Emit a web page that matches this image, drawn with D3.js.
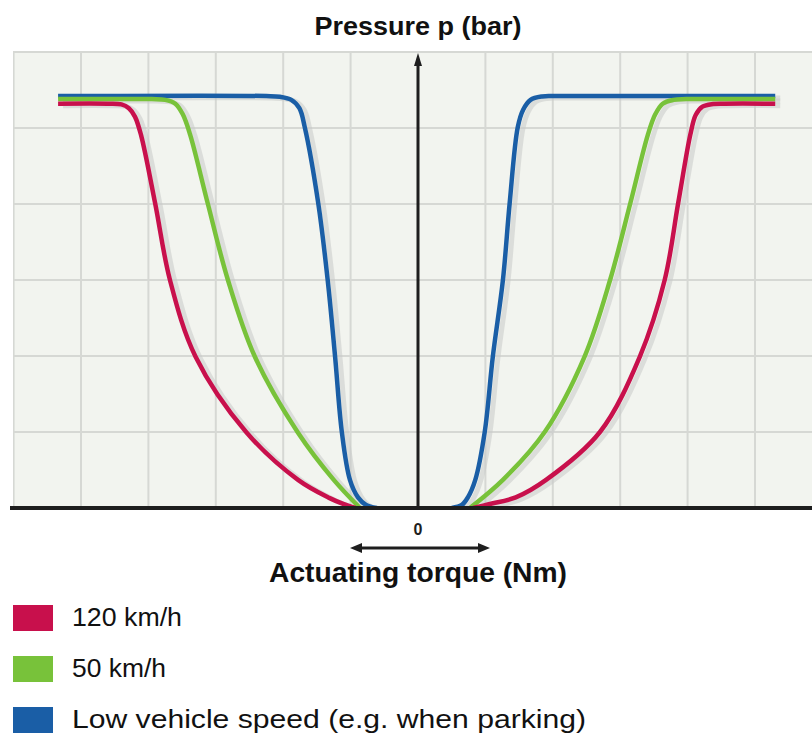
<!DOCTYPE html>
<html>
<head>
<meta charset="utf-8">
<script src="https://cdn.jsdelivr.net/npm/d3@7"></script>
<style>
  body { margin: 0; background: #fff; }
  svg { display: block; font-family: "Liberation Sans", Arial, sans-serif; }
</style>
</head>
<body>
<div id="chart"></div>
<script>
// curves: [torque (grid units), pressure (grid units)]
const red120Left = [[-5.34, 5.32], [-4.6, 5.32], [-4.4, 5.31], [-4.29, 5.26], [-4.2, 5.15], [-4.11, 4.91], [-3.9, 4.01], [-3.68, 3.0], [-3.3, 1.99], [-2.55, 1.0], [-1.78, 0.37], [-1.31, 0.13], [-1.1, 0.05], [-0.93, 0]];
const red120Right = [[0.82, 0], [1.05, 0.05], [1.45, 0.14], [1.9, 0.37], [2.7, 1.0], [3.29, 1.99], [3.66, 3.0], [3.86, 4.01], [4.04, 4.91], [4.12, 5.17], [4.22, 5.28], [4.38, 5.315], [4.55, 5.32], [5.3, 5.32]];
const green50Left = [[-5.34, 5.38], [-3.95, 5.38], [-3.75, 5.37], [-3.6, 5.32], [-3.49, 5.18], [-3.38, 4.91], [-3.12, 4.01], [-2.82, 3.0], [-2.42, 1.99], [-1.78, 0.99], [-1.25, 0.37], [-0.86, 0]];
const green50Right = [[0.77, 0], [1.26, 0.37], [1.88, 1.0], [2.47, 1.99], [2.85, 3.0], [3.15, 4.01], [3.41, 4.91], [3.52, 5.18], [3.63, 5.32], [3.79, 5.37], [3.98, 5.38], [5.3, 5.38]];
const lowSpeedLeft = [[-5.34, 5.42], [-2.25, 5.42], [-2.05, 5.41], [-1.88, 5.37], [-1.76, 5.26], [-1.68, 5.01], [-1.48, 4.01], [-1.34, 3.0], [-1.23, 1.99], [-1.13, 1.0], [-1.01, 0.37], [-0.89, 0.14], [-0.77, 0.04], [-0.61, 0]];
const lowSpeedRight = [[0.5, 0], [0.65, 0.04], [0.74, 0.14], [0.85, 0.37], [0.99, 1.0], [1.11, 1.99], [1.26, 3.0], [1.36, 4.01], [1.48, 5.01], [1.56, 5.24], [1.67, 5.37], [1.84, 5.415], [2.05, 5.42], [5.3, 5.42]];

const seriesNames = ["120 km/h", "50 km/h", "Low vehicle speed (e.g. when parking)"];
const seriesColors = ["#c8104c", "#78c23a", "#1a5ea6"];
const xTicks = [-6, -5, -4, -3, -2, -1, 0, 1, 2, 3, 4, 5, 6];
const yTicks = [0, 1, 2, 3, 4, 5, 6];

const width = 812;
const height = 733;
const plot = { left: 13, right: 812, top: 52, bottom: 508 };

const svg = d3.select("#chart")
  .append("svg")
  .attr("width", width)
  .attr("height", height);

const x = d3.scaleLinear()
  .domain([-6, 6])
  .range([plot.left + 0.6, 822.4]);

const y = d3.scaleLinear()
  .domain([0, 6])
  .range([plot.bottom, plot.top]);

svg.append("clipPath").attr("id", "clip")
  .append("rect")
  .attr("x", plot.left).attr("y", plot.top - 2)
  .attr("width", plot.right - plot.left).attr("height", plot.bottom - plot.top + 2);

// plot background
svg.append("rect")
  .attr("x", plot.left)
  .attr("y", plot.top)
  .attr("width", plot.right - plot.left)
  .attr("height", plot.bottom - plot.top)
  .attr("fill", "#f2f4ef");

const grid = svg.append("g").attr("clip-path", "url(#clip)");

grid.selectAll("line.v")
  .data(xTicks.filter(d => d !== 0))
  .join("line")
    .attr("class", "v")
    .attr("x1", d => x(d)).attr("x2", d => x(d))
    .attr("y1", plot.top).attr("y2", plot.bottom)
    .attr("stroke", "#d6d8d4")
    .attr("stroke-width", 2);

grid.selectAll("line.h")
  .data(yTicks.filter(d => d !== 0))
  .join("line")
    .attr("class", "h")
    .attr("x1", plot.left).attr("x2", plot.right)
    .attr("y1", d => y(d)).attr("y2", d => y(d))
    .attr("stroke", "#d6d8d4")
    .attr("stroke-width", 2);

// curves
const line = d3.line()
  .x(d => x(d[0]))
  .y(d => y(d[1]))
  .curve(d3.curveCatmullRom.alpha(0.5));

const curves = [
  [lowSpeedLeft, lowSpeedRight, 2],
  [green50Left, green50Right, 1],
  [red120Left, red120Right, 0]
];

const curveG = svg.append("g").attr("clip-path", "url(#clip)");
curves.forEach(c => {
  [c[0], c[1]].forEach(pts => {
    curveG.append("path")
      .attr("d", line(pts))
      .attr("fill", "none")
      .attr("stroke", "#c9cbc8")
      .attr("stroke-opacity", 0.55)
      .attr("stroke-width", 5)
      .attr("transform", "translate(5,2)");
  });
});
curves.forEach(c => {
  [c[0], c[1]].forEach(pts => {
    curveG.append("path")
      .attr("d", line(pts))
      .attr("fill", "none")
      .attr("stroke", seriesColors[c[2]])
      .attr("stroke-width", 4.5)
      .attr("stroke-linecap", "butt");
  });
});

// axes
svg.append("line")
  .attr("x1", 10).attr("x2", plot.right)
  .attr("y1", y(0)).attr("y2", y(0))
  .attr("stroke", "#1e1e1e")
  .attr("stroke-width", 4);

svg.append("line")
  .attr("x1", x(0)).attr("x2", x(0))
  .attr("y1", y(0)).attr("y2", plot.top + 10)
  .attr("stroke", "#1e1e1e")
  .attr("stroke-width", 3);

svg.append("path")
  .attr("d", `M${x(0)},${plot.top + 1} L${x(0) - 4},${plot.top + 14} L${x(0) + 4},${plot.top + 14} Z`)
  .attr("fill", "#1e1e1e");

// zero label and double arrow
svg.append("text")
  .attr("x", x(0))
  .attr("y", 535)
  .attr("text-anchor", "middle")
  .attr("font-size", 16)
  .attr("font-weight", "bold")
  .attr("fill", "#1e1e1e")
  .text(xTicks[6]);

const ay = 548;
svg.append("line")
  .attr("x1", 358).attr("x2", 482)
  .attr("y1", ay).attr("y2", ay)
  .attr("stroke", "#1e1e1e")
  .attr("stroke-width", 3);
svg.append("path")
  .attr("d", `M350,${ay} L362,${ay - 5} L362,${ay + 5} Z M490,${ay} L478,${ay - 5} L478,${ay + 5} Z`)
  .attr("fill", "#1e1e1e");

// titles
svg.append("text")
  .attr("x", x(0))
  .attr("y", 35)
  .attr("text-anchor", "middle")
  .attr("font-size", 25)
  .attr("font-weight", "bold")
  .attr("fill", "#111")
  .attr("textLength", 207)
  .attr("lengthAdjust", "spacingAndGlyphs")
  .text("Pressure p (bar)");

svg.append("text")
  .attr("x", x(0))
  .attr("y", 582)
  .attr("text-anchor", "middle")
  .attr("font-size", 27)
  .attr("font-weight", "bold")
  .attr("fill", "#111")
  .attr("textLength", 298)
  .attr("lengthAdjust", "spacingAndGlyphs")
  .text("Actuating torque (Nm)");

// legend
const legendWidths = [110, 94, 514];
const legend = svg.append("g")
  .selectAll("g")
  .data(seriesNames)
  .join("g")
    .attr("transform", (d, i) => `translate(13,${605 + i * 51})`);

legend.append("rect")
  .attr("width", 40)
  .attr("height", 26)
  .attr("fill", (d, i) => seriesColors[i]);

legend.append("text")
  .attr("x", 59)
  .attr("y", 21)
  .attr("font-size", 25)
  .attr("fill", "#111")
  .attr("textLength", (d, i) => legendWidths[i])
  .attr("lengthAdjust", "spacingAndGlyphs")
  .text(d => d);
</script>
</body>
</html>
